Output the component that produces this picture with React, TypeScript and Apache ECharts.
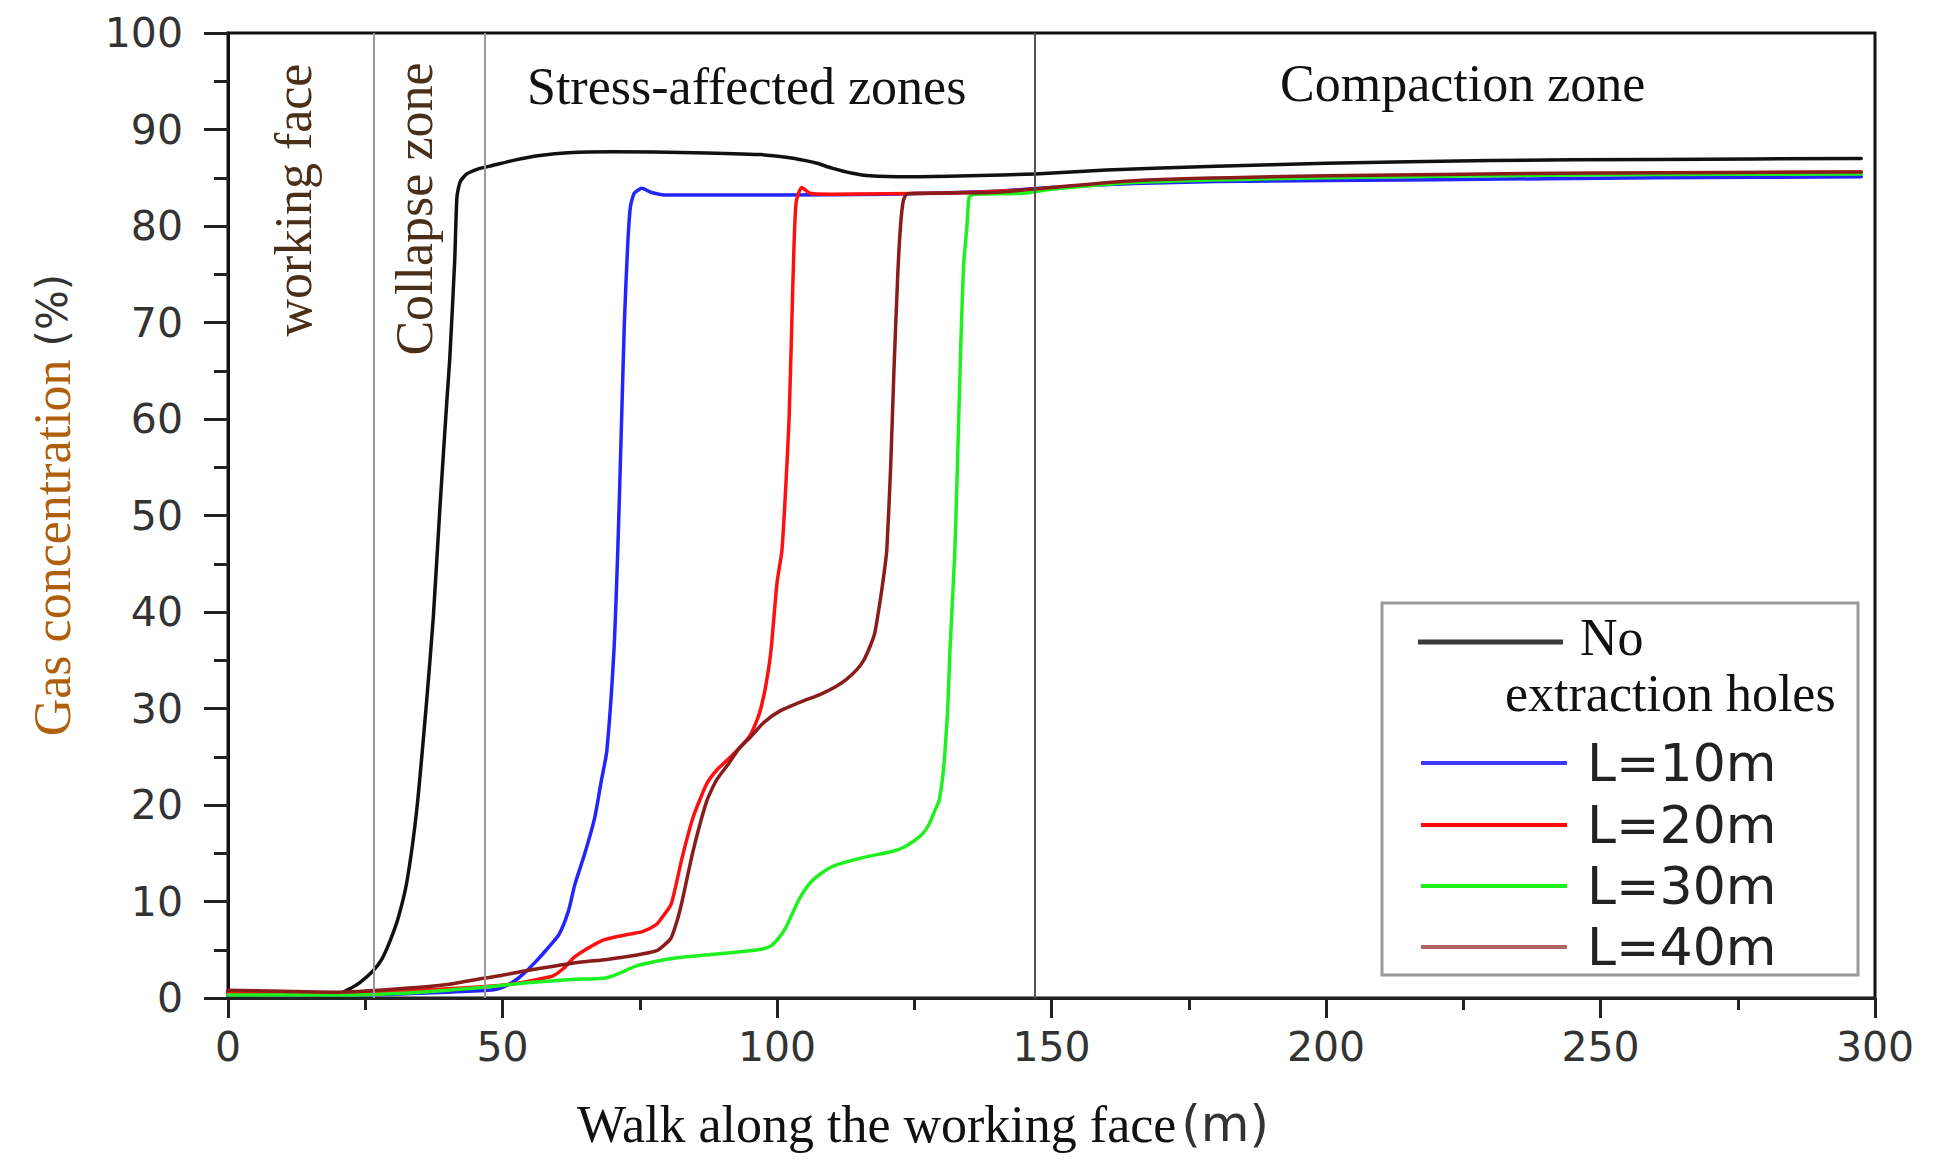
import { useEffect, useRef } from "react";
import * as echarts from "echarts";

// Position along the working face (m) and gas concentration (%)
const noHoles = [
  [0, 0.7], [8, 0.6], [15, 0.4], [19, 0.4], [20.5, 0.5], [22, 0.9], [24, 1.6], [26.4, 2.8], [28, 4],
  [29.5, 5.9], [31, 8.3], [32.6, 12.1], [34.4, 19.6], [36.2, 30.9], [37.4, 39.5], [38.6, 50.8],
  [39.9, 62.2], [40.4, 66.3], [41.3, 76.5], [41.7, 83], [42.3, 84.6], [43.5, 85.4], [45.5, 85.9],
  [47.7, 86.2], [52, 86.8], [56.8, 87.3], [62, 87.6], [70, 87.7], [85, 87.6], [97, 87.4], [102, 87.1],
  [105, 86.8], [107.3, 86.5], [110, 86], [113.5, 85.5], [117, 85.2], [124, 85.1], [135, 85.2],
  [147, 85.4], [160, 85.8], [180, 86.2], [200, 86.5], [230, 86.8], [260, 86.9], [297.5, 87],
];

const l10 = [
  [0, 0.3], [20, 0.3], [30, 0.4], [40, 0.6], [47.4, 0.8], [49.5, 1], [52, 1.7], [54, 2.6], [56.1, 3.8],
  [58, 5], [60.3, 6.6], [62, 9], [63.2, 11.8], [65, 15], [66.8, 18.7], [68, 22.5], [69, 25.6],
  [70.3, 36], [71, 46.4], [71.6, 58], [72.2, 70], [72.8, 78], [73.3, 82], [74, 83.4], [75.4, 83.9],
  [77, 83.5], [80, 83.2], [100, 83.2], [120, 83.3], [140, 83.6], [150, 84], [165, 84.4], [180, 84.6],
  [220, 84.8], [260, 85], [297.5, 85.1],
];

const l20 = [
  [0, 0.5], [20, 0.5], [35, 0.8], [47, 1.2], [52.3, 1.5], [57, 2], [59.2, 2.3], [61, 3], [63, 4.2],
  [64.8, 4.9], [66, 5.3], [68.3, 6], [70.3, 6.3], [73, 6.6], [75.6, 6.9], [78, 7.6], [79, 8.3],
  [80.7, 9.7], [82.7, 14.5], [84.7, 18.7], [87.2, 22.2], [89, 23.6], [91.2, 24.8], [93, 25.8],
  [95.1, 27.2], [96.5, 29], [97.1, 30.1], [98, 32.5], [98.9, 36], [100, 43], [100.9, 46.4],
  [101.6, 53], [102.2, 60], [102.7, 70], [103.1, 78], [103.5, 82.5], [104.5, 84], [106, 83.4],
  [110, 83.3], [130, 83.4], [147, 83.8], [165, 84.6], [200, 85.1], [250, 85.4], [297.5, 85.6],
];

const l30 = [
  [0, 0.3], [20, 0.3], [35, 0.6], [48, 1.2], [55, 1.6], [62, 1.9], [67, 2], [69, 2.1], [71, 2.5],
  [74.3, 3.3], [78, 3.8], [82.1, 4.2], [88, 4.5], [95.1, 4.9], [97.5, 5.1], [98.9, 5.4], [100.3, 6.2],
  [101.6, 7.3], [103, 9], [104.2, 10.4], [106, 11.9], [108, 12.9], [110, 13.6], [112, 14], [116, 14.6],
  [121.1, 15.2], [123, 15.6], [125, 16.3], [126.5, 17], [127.7, 18], [128.8, 19.5], [129.5, 20.4],
  [130.2, 23], [130.6, 25.6], [131.1, 30], [131.5, 36], [132.4, 46.4], [133, 58], [133.5, 68],
  [134, 76], [134.6, 80], [135, 83], [136, 83.3], [145, 83.4], [150, 83.8], [165, 84.5], [200, 85],
  [250, 85.3], [297.5, 85.4],
];

const l40 = [
  [0, 0.8], [10, 0.7], [20, 0.6], [30, 0.9], [40, 1.4], [45, 1.9], [49.5, 2.3], [54, 2.8], [59.3, 3.3],
  [64, 3.7], [69, 4], [74, 4.4], [78.1, 4.9], [79.5, 5.5], [80.7, 6.2], [81.8, 8], [82.7, 10],
  [84.7, 15.2], [87.2, 20.4], [89, 22.6], [91.2, 24.3], [93, 25.8], [95.1, 27], [97.5, 28.5],
  [100.4, 29.7], [104, 30.6], [108, 31.5], [110.5, 32.2], [112.6, 33], [114.5, 34], [115.8, 35],
  [117, 36.5], [117.8, 37.8], [118.8, 41.2], [119.5, 44], [120, 46.4], [120.7, 55], [121.3, 65],
  [122, 75], [122.5, 80], [123, 82.6], [123.6, 83.3], [126, 83.4], [140, 83.5], [150, 84],
  [165, 84.7], [200, 85.2], [250, 85.5], [297.5, 85.6],
];

// zone boundaries (m)
const zoneBounds = [26.6, 46.8, 147];

const SERIF = "'Liberation Serif', 'Times New Roman', serif";
const SANS = "'DejaVu Sans', sans-serif";

const curves = [
  { name: "No extraction holes", data: noHoles, color: "#111111" },
  { name: "L=10m", data: l10, color: "#2424ff" },
  { name: "L=20m", data: l20, color: "#ff1010" },
  { name: "L=30m", data: l30, color: "#1ff01f" },
  { name: "L=40m", data: l40, color: "#8a1c1c" },
];

const legendSwatch = ["#3a3a3a", "#3a3aff", "#ff0a0a", "#1cf01c", "#b06464"];

function buildOption(): echarts.EChartsOption {
  const legendItems: any[] = [
    { type: "rect", shape: { x: 1382, y: 603, width: 476, height: 372 }, style: { fill: "#fff", stroke: "#9a9a9a", lineWidth: 3 } },
    { type: "line", shape: { x1: 1418, y1: 642, x2: 1563, y2: 642 }, style: { stroke: legendSwatch[0], lineWidth: 5 } },
    { type: "text", x: 1580, y: 637, style: { text: "No", font: `52px ${SERIF}`, fill: "#111", textAlign: "left", textVerticalAlign: "middle" } },
    { type: "text", x: 1505, y: 693, style: { text: "extraction holes", font: `52px ${SERIF}`, fill: "#111", textAlign: "left", textVerticalAlign: "middle" } },
  ];
  const ys = [763, 825, 886, 947];
  ["L=10m", "L=20m", "L=30m", "L=40m"].forEach((t, i) => {
    legendItems.push(
      { type: "line", shape: { x1: 1421, y1: ys[i], x2: 1567, y2: ys[i] }, style: { stroke: legendSwatch[i + 1], lineWidth: 4 } },
      { type: "text", x: 1587, y: ys[i], style: { text: t, font: `52px ${SANS}`, fill: "#222", textAlign: "left", textVerticalAlign: "middle" } },
    );
  });

  return {
    animation: false,
    backgroundColor: "#ffffff",
    grid: { left: 228, top: 33, right: 63, bottom: 174, show: true, borderColor: "#111", borderWidth: 3, backgroundColor: "#fff" },
    xAxis: {
      type: "value",
      min: 0,
      max: 300,
      interval: 50,
      axisLine: { show: true, lineStyle: { color: "#222", width: 3 } },
      axisTick: { show: true, length: 20, lineStyle: { color: "#222", width: 3 } },
      minorTick: { show: true, splitNumber: 2, length: 12, lineStyle: { color: "#222", width: 3 } },
      splitLine: { show: false },
      axisLabel: { fontFamily: "DejaVu Sans", fontSize: 41, color: "#333", margin: 28 },
    },
    yAxis: {
      type: "value",
      min: 0,
      max: 100,
      interval: 10,
      axisLine: { show: true, lineStyle: { color: "#111", width: 3 } },
      axisTick: { show: true, length: 24, lineStyle: { color: "#222", width: 3 } },
      minorTick: { show: true, splitNumber: 2, length: 14, lineStyle: { color: "#222", width: 3 } },
      splitLine: { show: false },
      axisLabel: { fontFamily: "DejaVu Sans", fontSize: 41, color: "#333", margin: 45 },
    },
    series: [
      {
        type: "line",
        name: "zones",
        data: [],
        z: 1,
        silent: true,
        markLine: {
          silent: true,
          symbol: ["none", "none"],
          label: { show: false },
          lineStyle: { type: "solid", width: 2 },
          data: [
            { xAxis: zoneBounds[0], lineStyle: { color: "#9a9a9a", type: "solid", width: 2 } },
            { xAxis: zoneBounds[1], lineStyle: { color: "#9a9a9a", type: "solid", width: 2 } },
            { xAxis: zoneBounds[2], lineStyle: { color: "#555555", type: "solid", width: 2 } },
          ],
        },
      },
      ...curves.map((c) => ({
        type: "line" as const,
        name: c.name,
        data: c.data,
        showSymbol: false,
        smooth: 0.2,
        lineStyle: { color: c.color, width: 3.5, cap: "round" as const, join: "round" as const },
        itemStyle: { color: c.color },
        z: 2,
      })),
    ],
    graphic: [
      { type: "text", x: 293, y: 200, rotation: Math.PI / 2, style: { text: "working face", font: `52px ${SERIF}`, fill: "#4a3018", textAlign: "center", textVerticalAlign: "middle" } },
      { type: "text", x: 414, y: 209, rotation: Math.PI / 2, style: { text: "Collapse zone", font: `52px ${SERIF}`, fill: "#4a3018", textAlign: "center", textVerticalAlign: "middle" } },
      { type: "text", x: 527, y: 86, style: { text: "Stress-affected zones", font: `52px ${SERIF}`, fill: "#111", textAlign: "left", textVerticalAlign: "middle" } },
      { type: "text", x: 1280, y: 83, style: { text: "Compaction zone", font: `52px ${SERIF}`, fill: "#111", textAlign: "left", textVerticalAlign: "middle" } },
      {
        type: "text",
        x: 52,
        y: 505,
        rotation: Math.PI / 2,
        style: {
          text: "{a|Gas concentration }{b|(%)}",
          textAlign: "center",
          textVerticalAlign: "middle",
          rich: {
            a: { fontFamily: "Liberation Serif", fontSize: 52, fill: "#b0600c" },
            b: { fontFamily: "DejaVu Sans", fontSize: 42, fill: "#333" },
          },
        },
      },
      {
        type: "text",
        x: 577,
        y: 1124,
        style: {
          text: "{a|Walk along the working face}{s| }{b|(m)}",
          textAlign: "left",
          textVerticalAlign: "middle",
          rich: {
            a: { fontFamily: "Liberation Serif", fontSize: 52, fill: "#111" },
            s: { fontFamily: "Liberation Serif", fontSize: 20, fill: "#111" },
            b: { fontFamily: "DejaVu Sans", fontSize: 50, fill: "#333" },
          },
        },
      },
      ...legendItems,
    ],
  };
}

export default function App() {
  const el = useRef<HTMLDivElement>(null);

  useEffect(() => {
    if (!el.current) return;
    const chart = echarts.init(el.current, undefined, { renderer: "svg" });
    chart.setOption(buildOption());
    return () => { chart.dispose(); };
  }, []);

  return (
    <div style={{ position: "absolute", left: 0, top: 0, width: 1938, height: 1172, background: "#fff" }}>
      <div ref={el} style={{ width: "100%", height: "100%" }} />
    </div>
  );
}
